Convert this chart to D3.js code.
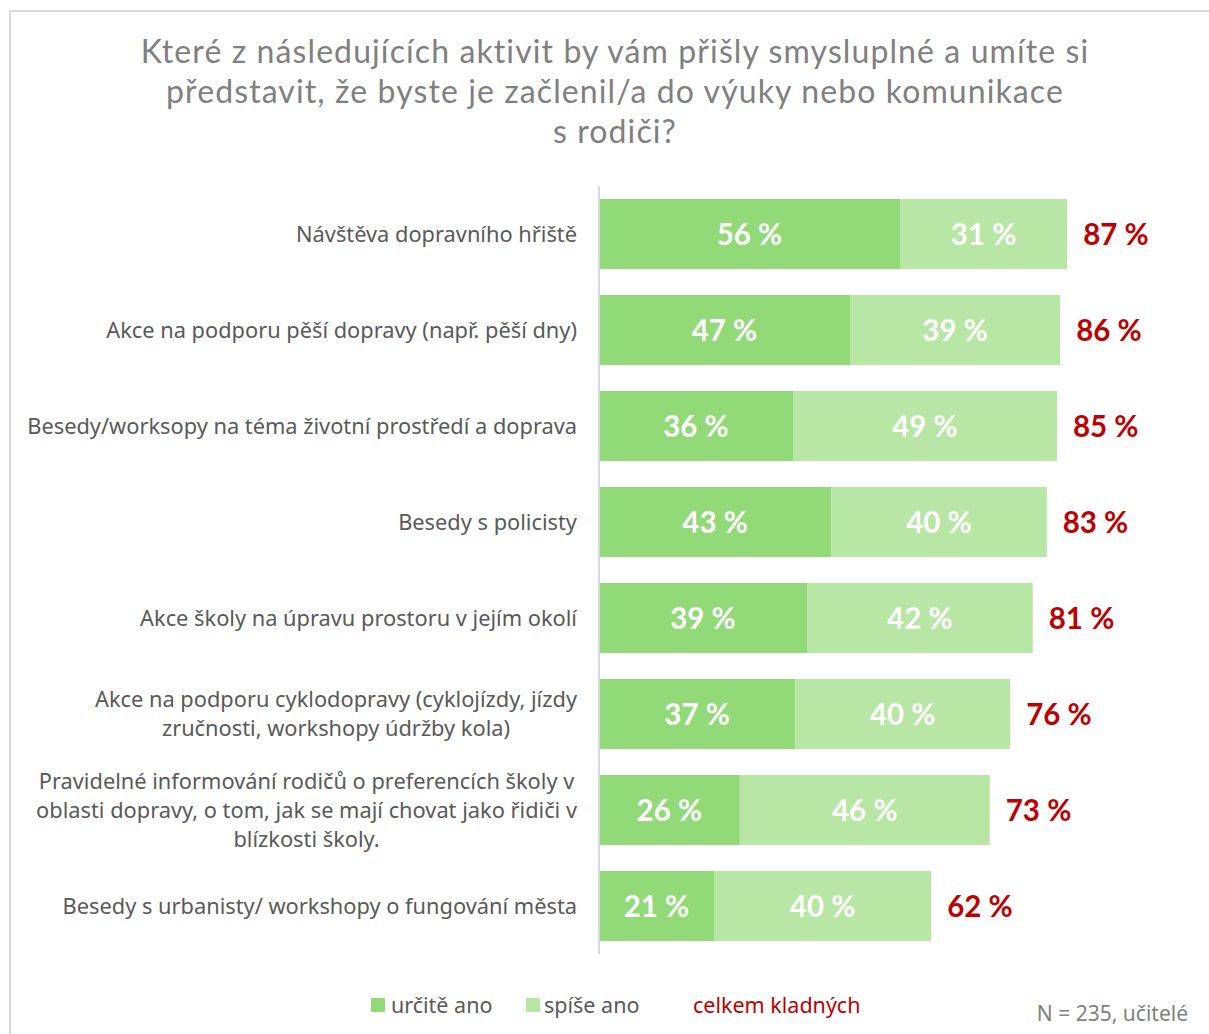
<!DOCTYPE html>
<html>
<head>
<meta charset="utf-8">
<script src="https://cdn.jsdelivr.net/npm/d3@7"></script>
<style>
  body { margin: 0; background: #fff; }
  svg { display: block; }
</style>
</head>
<body>
<div id="chart"></div>
<script>
// data
var categories = [
  ["Návštěva dopravního hřiště"],
  ["Akce na podporu pěší dopravy (např. pěší dny)"],
  ["Besedy/worksopy na téma životní prostředí a doprava"],
  ["Besedy s policisty"],
  ["Akce školy na úpravu prostoru v jejím okolí"],
  ["Akce na podporu cyklodopravy (cyklojízdy, jízdy", "zručnosti, workshopy údržby kola)"],
  ["Pravidelné informování rodičů o preferencích školy v", "oblasti dopravy, o tom, jak se mají chovat jako řidiči v", "blízkosti školy."],
  ["Besedy s urbanisty/ workshopy o fungování města"]
];
var urciteAno = [56, 46.7, 36.1, 43.2, 38.7, 36.5, 26.2, 21.4];
var spiseAno = [31.1, 39.1, 49.1, 40.1, 42.0, 40.0, 46.5, 40.4];
var urciteLabels = ["56 %", "47 %", "36 %", "43 %", "39 %", "37 %", "26 %", "21 %"];
var spiseLabels = ["31 %", "39 %", "49 %", "40 %", "42 %", "40 %", "46 %", "40 %"];
var totalLabels = ["87 %", "86 %", "85 %", "83 %", "81 %", "76 %", "73 %", "62 %"];

var titleLines = [
  "Které z následujících aktivit by vám přišly smysluplné a umíte si",
  "představit, že byste je začlenil/a do výuky nebo komunikace",
  "s rodiči?"
];

var W = 1209, H = 1034;
var svg = d3.select("#chart").append("svg")
  .attr("width", W).attr("height", H);

// chart frame
svg.append("path")
  .attr("d", "M10,1034 L10,11 L1209,11")
  .attr("fill", "none").attr("stroke", "#d9d9d9").attr("stroke-width", 2);

// title
svg.append("g").selectAll("text")
  .data(titleLines).enter().append("text")
  .attr("x", 615)
  .attr("y", function (d, i) { return 63 + i * 40; })
  .attr("text-anchor", "middle")
  .attr("font-family", "Lato, sans-serif")
  .attr("font-size", 32)
  .attr("letter-spacing", 1.1)
  .attr("fill", "#7f7f7f")
  .text(function (d) { return d; });

var x = d3.scaleLinear().domain([0, 100]).range([599, 599 + 537.5]);
var y = d3.scaleBand().domain(d3.range(categories.length)).range([186, 954]).paddingInner(0.27).paddingOuter(0.135);

var rows = svg.append("g").selectAll("g")
  .data(categories).enter().append("g");

// dark segment
rows.append("rect")
  .attr("x", x(0))
  .attr("y", function (d, i) { return y(i); })
  .attr("width", function (d, i) { return x(urciteAno[i]) - x(0); })
  .attr("height", y.bandwidth())
  .attr("fill", "#92d977");

// light segment
rows.append("rect")
  .attr("x", function (d, i) { return x(urciteAno[i]); })
  .attr("y", function (d, i) { return y(i); })
  .attr("width", function (d, i) { return x(urciteAno[i] + spiseAno[i]) - x(urciteAno[i]); })
  .attr("height", y.bandwidth())
  .attr("fill", "#b7e6a5");

var valueFont = "Lato, sans-serif";

rows.append("text")
  .attr("x", function (d, i) { return (x(0) + x(urciteAno[i])) / 2; })
  .attr("y", function (d, i) { return y(i) + y.bandwidth() / 2; })
  .attr("dy", "0.36em")
  .attr("text-anchor", "middle")
  .attr("font-family", valueFont).attr("font-weight", 700).attr("font-size", 29.5)
  .attr("fill", "#fff")
  .text(function (d, i) { return urciteLabels[i]; });

rows.append("text")
  .attr("x", function (d, i) { return (x(urciteAno[i]) + x(urciteAno[i] + spiseAno[i])) / 2; })
  .attr("y", function (d, i) { return y(i) + y.bandwidth() / 2; })
  .attr("dy", "0.36em")
  .attr("text-anchor", "middle")
  .attr("font-family", valueFont).attr("font-weight", 700).attr("font-size", 29.5)
  .attr("fill", "#fff")
  .text(function (d, i) { return spiseLabels[i]; });

rows.append("text")
  .attr("x", function (d, i) { return x(urciteAno[i] + spiseAno[i]) + 16; })
  .attr("y", function (d, i) { return y(i) + y.bandwidth() / 2; })
  .attr("dy", "0.36em")
  .attr("font-family", valueFont).attr("font-weight", 700).attr("font-size", 29.5)
  .attr("fill", "#c00000")
  .text(function (d, i) { return totalLabels[i]; });

// category labels: block right-aligned at 577, lines centred within the block
rows.each(function (lines, i) {
  var cy = y(i) + y.bandwidth() / 2;
  var t = d3.select(this).append("text")
    .attr("text-anchor", "middle")
    .attr("font-family", "'Noto Sans', sans-serif")
    .attr("font-size", 21.8)
    .attr("fill", "#595959");
  var spans = lines.map(function (line, k) {
    return t.append("tspan")
      .attr("y", cy + (k - (lines.length - 1) / 2) * 29)
      .attr("dy", "0.35em")
      .text(line);
  });
  var maxW = d3.max(spans, function (s) { return s.node().getComputedTextLength(); });
  spans.forEach(function (s) { s.attr("x", 577 - maxW / 2); });
});

// axis line
svg.append("line")
  .attr("x1", x(0)).attr("x2", x(0))
  .attr("y1", 186).attr("y2", 954)
  .attr("stroke", "#d9d9d9").attr("stroke-width", 2);

// legend
var legend = svg.append("g").attr("font-family", "'Noto Sans', sans-serif").attr("font-size", 21.5);
legend.append("rect").attr("x", 371).attr("y", 998).attr("width", 14).attr("height", 14).attr("fill", "#92d977");
legend.append("text").attr("x", 391).attr("y", 1005).attr("dy", "0.35em").attr("fill", "#595959").text("určitě ano");
legend.append("rect").attr("x", 526).attr("y", 998).attr("width", 14).attr("height", 14).attr("fill", "#b7e6a5");
legend.append("text").attr("x", 544).attr("y", 1005).attr("dy", "0.35em").attr("fill", "#595959").text("spíše ano");
legend.append("text").attr("x", 693).attr("y", 1005).attr("dy", "0.35em").attr("fill", "#c00000").text("celkem kladných");

svg.append("text")
  .attr("x", 1188).attr("y", 1014).attr("dy", "0.35em")
  .attr("text-anchor", "end")
  .attr("font-family", "'Noto Sans', sans-serif").attr("font-size", 21)
  .attr("fill", "#7f7f7f")
  .text("N = 235, učitelé");
</script>
</body>
</html>
